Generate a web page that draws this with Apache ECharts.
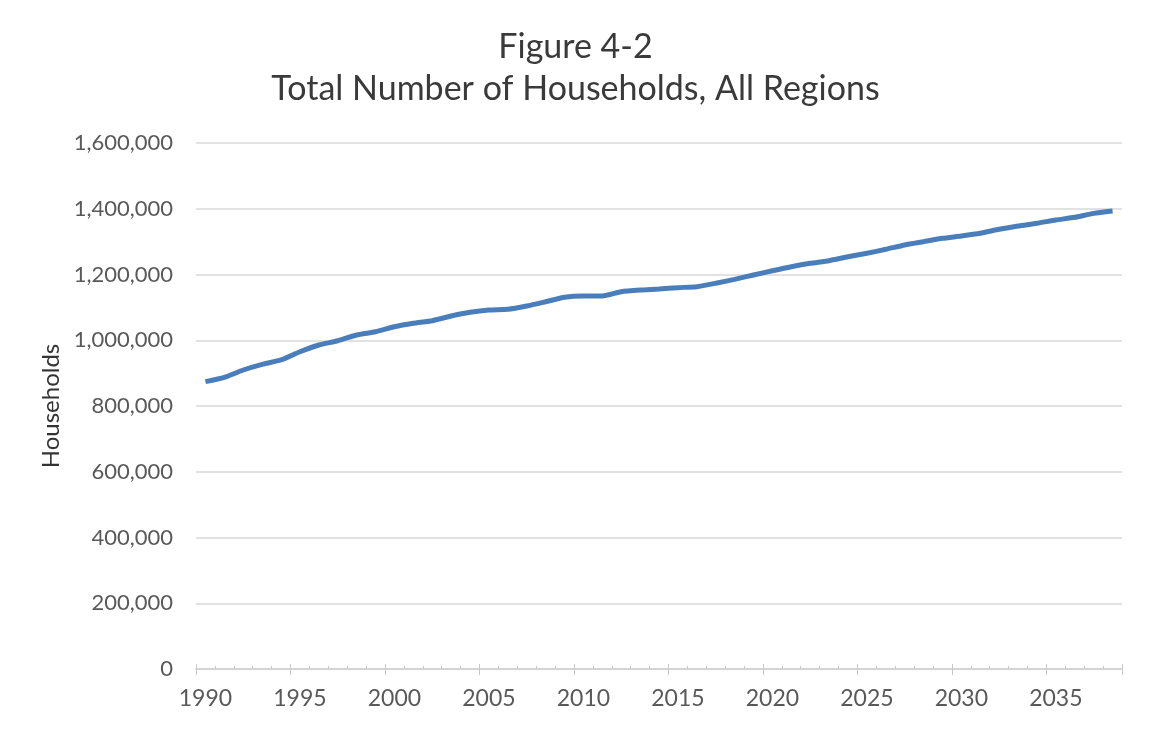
<!DOCTYPE html>
<html>
<head>
<meta charset="utf-8">
<script src="https://cdn.jsdelivr.net/npm/echarts@6/dist/echarts.min.js"></script>
<style>
html,body{margin:0;padding:0;background:#fff;}
#chart{width:1151px;height:729px;}
</style>
</head>
<body>
<div id="chart"></div>
<script>
const years = [];
for (let y = 1990; y <= 2038; y++) years.push(String(y));

const households = [
  874000, 887000, 909500, 926800, 940000, 965000, 985500, 998600, 1016000, 1026000,
  1041000, 1051500, 1059500, 1073700, 1085000, 1092000, 1094000, 1104000, 1117000, 1130600,
  1134600, 1134600, 1147700, 1152800, 1155900, 1160000, 1163000, 1173300, 1185300, 1198500,
  1211500, 1223700, 1234000, 1242000, 1254000, 1264500, 1276600, 1289700, 1299800, 1310000,
  1317000, 1325300, 1337500, 1347500, 1355700, 1365800, 1374000, 1386000, 1393000
];

const titleLines = ['Figure 4-2', 'Total Number of Households, All Regions'];
const yAxisTitle = 'Households';

const font = 'Lato';
const chart = echarts.init(document.getElementById('chart'));
const baseX = {
  type: 'category',
  data: years,
  boundaryGap: true,
  gridIndex: 0
};
chart.setOption({
  animation: false,
  backgroundColor: '#ffffff',
  textStyle: { fontFamily: font },
  title: {
    text: titleLines.join('\n'),
    left: 'center',
    top: 21,
    textStyle: { fontFamily: font, fontSize: 34, fontWeight: 'normal', color: '#3a3a3a', lineHeight: 42 }
  },
  grid: { left: 196, right: 29, top: 143, bottom: 60, containLabel: false },
  xAxis: [
    Object.assign({}, baseX, {
      axisLine: { show: true, lineStyle: { color: '#d0d0d0', width: 1.5 } },
      axisTick: { show: true, interval: 0, inside: true, length: 3, lineStyle: { color: '#c8c8c8' } },
      axisLabel: { interval: 4, color: '#595959', fontSize: 23, margin: 18, fontFamily: font },
      splitLine: { show: false }
    }),
    Object.assign({}, baseX, {
      position: 'bottom',
      axisLine: { show: false },
      axisTick: { show: true, interval: 4, inside: false, length: 6, lineStyle: { color: '#c8c8c8' } },
      axisLabel: { show: false },
      splitLine: { show: false }
    }),
    Object.assign({}, baseX, {
      position: 'bottom',
      axisLine: { show: false },
      axisTick: { show: true, interval: 4, inside: true, length: 5, lineStyle: { color: '#c8c8c8' } },
      axisLabel: { show: false },
      splitLine: { show: false }
    })
  ],
  yAxis: {
    type: 'value',
    min: 0,
    max: 1600000,
    interval: 200000,
    name: yAxisTitle,
    nameLocation: 'middle',
    nameRotate: 90,
    nameGap: 131,
    nameTextStyle: { color: '#333333', fontSize: 24, fontFamily: font },
    axisLine: { show: false },
    axisTick: { show: false },
    axisLabel: {
      color: '#595959', fontSize: 22, margin: 23, fontFamily: font,
      formatter: v => v.toLocaleString('en-US')
    },
    splitLine: { lineStyle: { color: '#d9d9d9', width: 1.5 } }
  },
  series: [{
    type: 'line',
    data: households,
    xAxisIndex: 0,
    showSymbol: false,
    smooth: 0.2,
    lineStyle: { color: '#4a7ebb', width: 5 },
    itemStyle: { color: '#4a7ebb' }
  }]
});
</script>
</body>
</html>
